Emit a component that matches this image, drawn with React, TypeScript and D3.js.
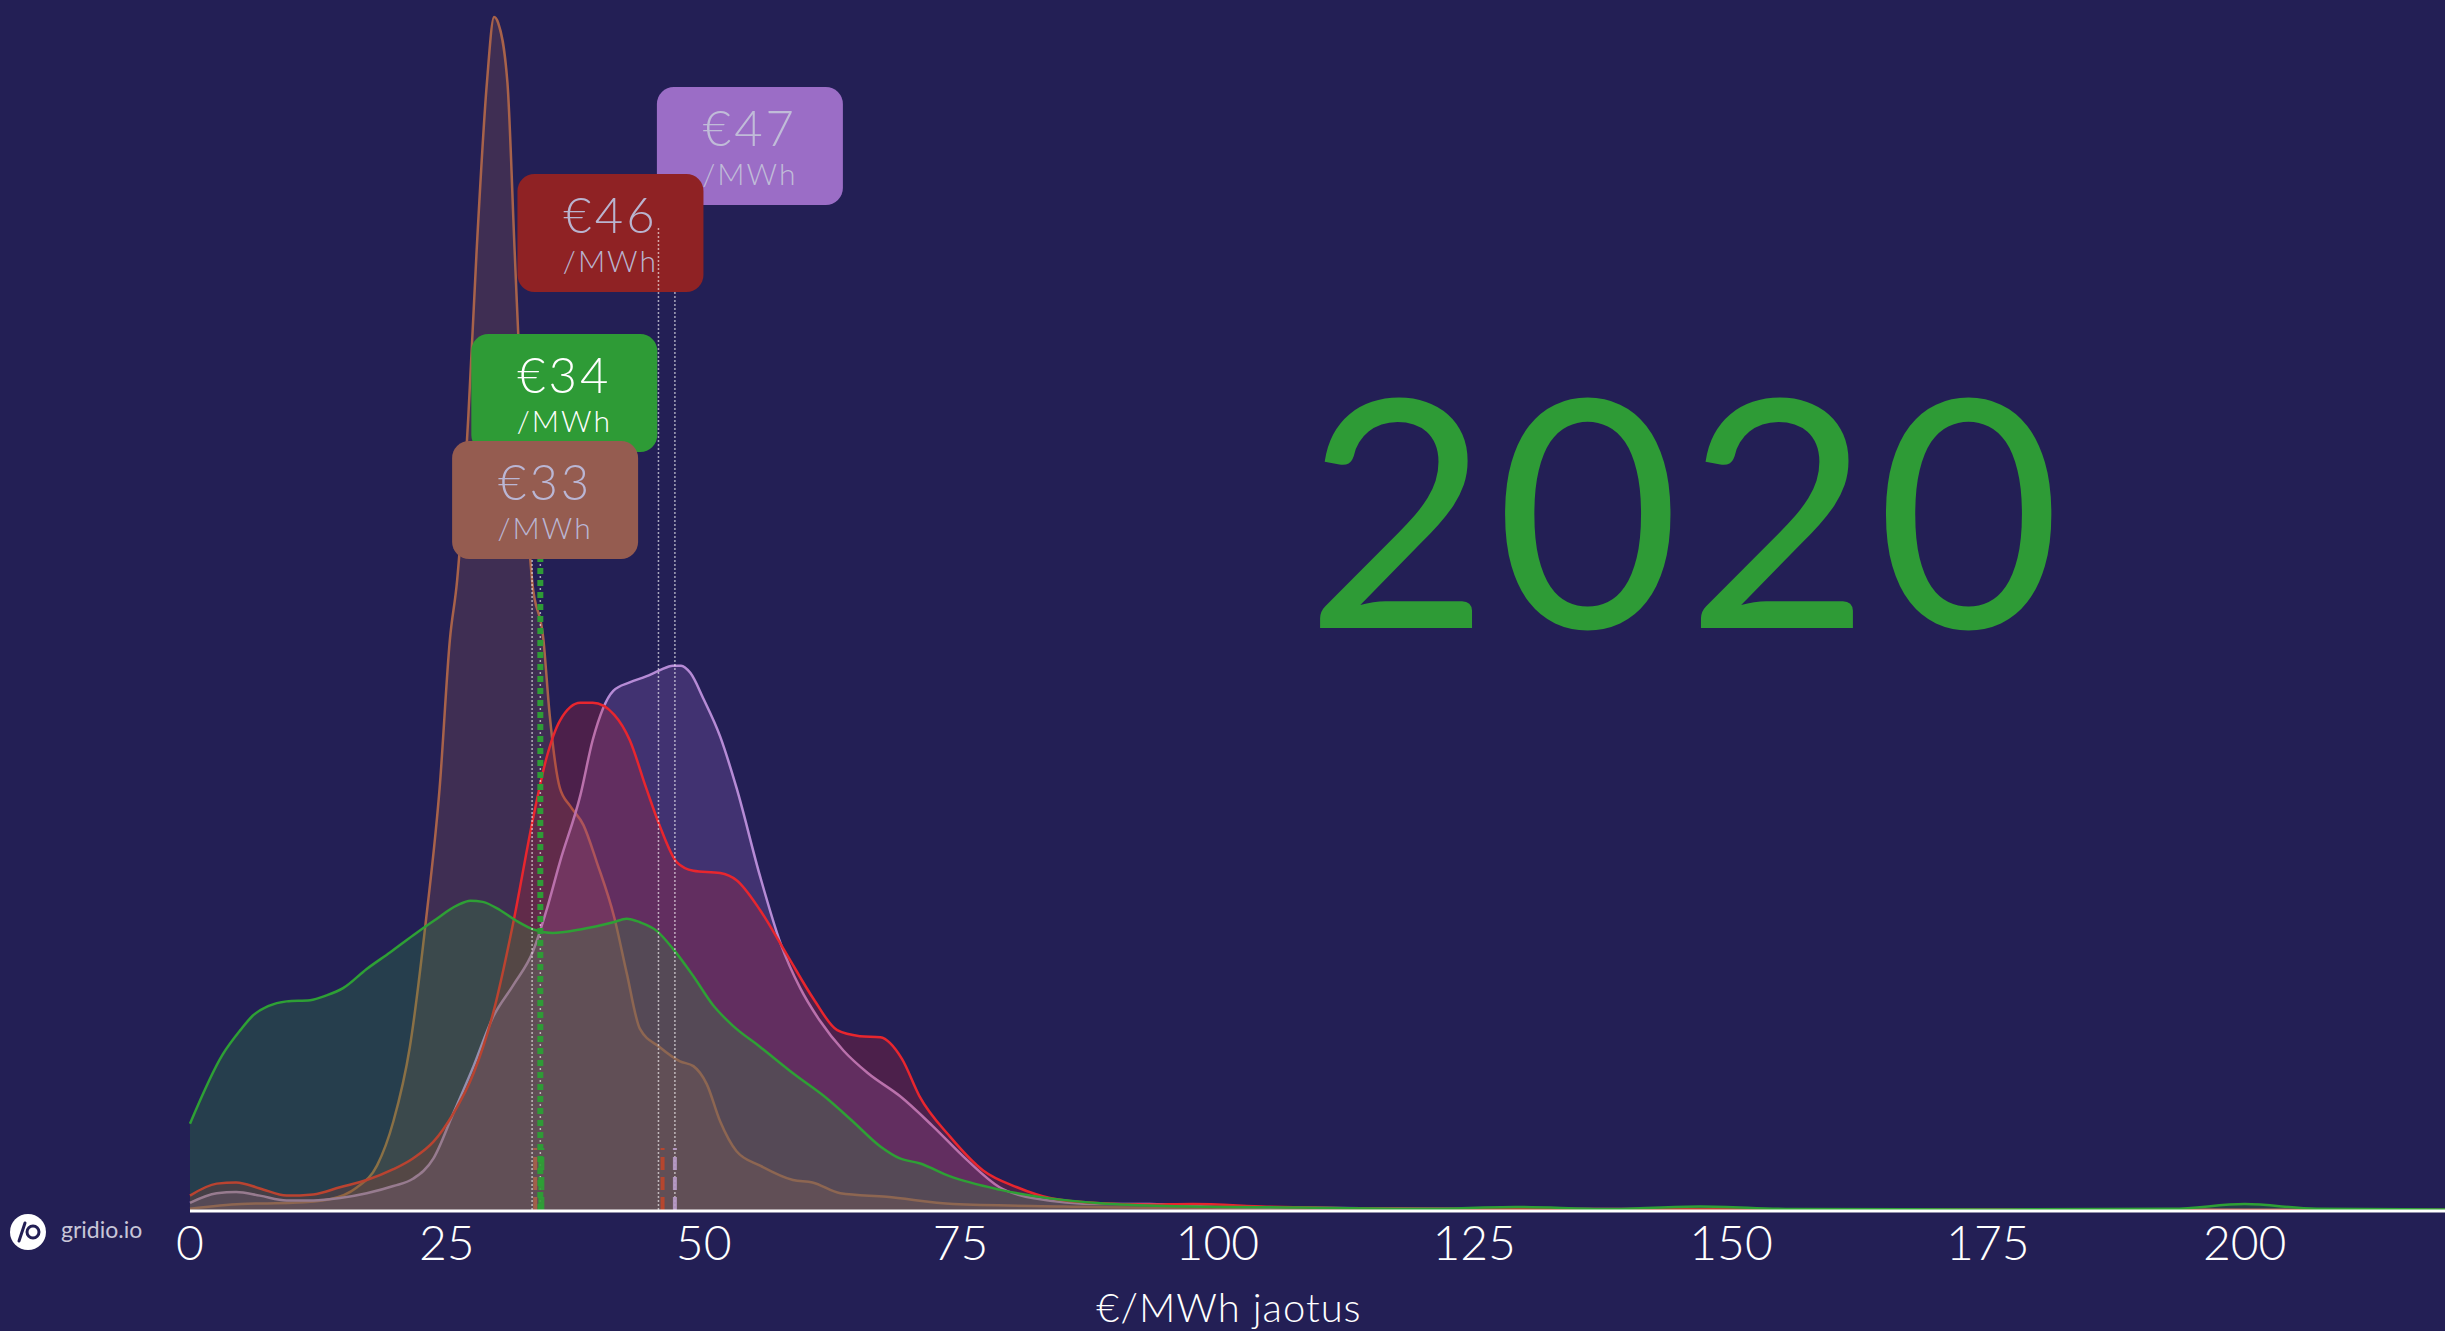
import React from 'react';
import * as d3 from 'd3';

// ---------- data ----------
const xTicks = [0, 25, 50, 75, 100, 125, 150, 175, 200];
const yearLabel = '2020';
const axisTitle = '€/MWh jaotus';

const brownPrice = [0, 5, 10, 13.6, 16.2, 18.2, 19.8, 21.4, 23, 24.3, 25.3, 26.0, 27.1, 27.9, 28.9, 29.6, 30.0, 30.9, 31.6, 32.3, 33.3, 34.4, 35, 36, 37, 38.3, 39.6, 41.3, 42.5, 43.8, 45.7, 47.7, 49, 50.3, 51.6, 53.2, 55.5, 58.7, 60.6, 63.3, 67.8, 74.3, 85, 100, 120, 219.5];
const brownDensity = [0.1, 0.5, 0.6, 0.9, 1.85, 3.7, 7.4, 13.6, 24.4, 35.2, 47.6, 52.5, 66.3, 80, 94, 99.5, 99, 94, 80, 66.3, 52.5, 47.6, 41.4, 35.2, 33.7, 32.1, 29.0, 24.4, 19.8, 15.1, 13.6, 12.4, 12.0, 10.5, 7.4, 4.9, 3.7, 2.5, 2.3, 1.4, 1.1, 0.5, 0.3, 0.1, 0.05, 0];

const purplePrice = [0, 2.6, 4.5, 6.8, 9.4, 12, 14.6, 17.2, 19.8, 21.7, 23.7, 25.6, 27.6, 29.5, 31.5, 33.4, 34.7, 36, 38, 39.2, 41.2, 42.8, 44.4, 45.7, 47, 47.8, 48.7, 50, 51.6, 53.2, 55.5, 57.5, 59.4, 61.3, 63.6, 66, 69.1, 72.3, 75.6, 78.8, 82, 88.6, 93.4, 100, 120, 219.5];
const purpleDensity = [0.6, 1.4, 1.5, 1.2, 0.8, 0.8, 1.0, 1.4, 2.0, 2.6, 4.3, 8.0, 12.0, 16.1, 18.8, 21.6, 25.0, 29.0, 34.6, 39.2, 43.3, 44.0, 44.5, 45.0, 45.4, 45.4, 44.8, 42.6, 39.5, 35.2, 27.8, 22.2, 18.5, 15.8, 13.3, 11.4, 9.5, 7.0, 4.2, 1.9, 1.0, 0.5, 0.5, 0.25, 0.1, 0];

const redPrice = [0, 2.6, 4.5, 6.8, 9.4, 12, 14.6, 17.2, 19.8, 21.7, 23.7, 25.6, 27.6, 29.5, 31.5, 33.4, 34.7, 36, 38, 39.2, 41.3, 42.8, 44.4, 45.7, 47.4, 49, 51.6, 53.2, 55.5, 58.1, 60.7, 63, 65.2, 67.2, 69.3, 71, 74, 77.2, 80.5, 83.7, 88.6, 93, 97.6, 104.8, 120, 219.5];
const redDensity = [1.2, 2.2, 2.3, 1.8, 1.2, 1.3, 1.9, 2.5, 3.4, 4.3, 5.7, 8.0, 11.4, 16.4, 24.1, 32.7, 37.7, 40.8, 42.3, 42.3, 41.3, 39.2, 35.2, 32.1, 29.0, 28.3, 28.1, 27.5, 25.0, 21.3, 17.6, 15.0, 14.5, 14.4, 12.6, 9.5, 6.1, 3.3, 1.9, 1.0, 0.56, 0.45, 0.5, 0.28, 0.1, 0];

const greenPrice = [0, 3.2, 4.9, 6.1, 7.6, 9.4, 11.7, 13.3, 14.9, 17.2, 19.5, 21.7, 23.7, 26, 27.3, 28.5, 30.2, 31.8, 33.4, 35.3, 38, 41.2, 42.5, 43.8, 45.4, 47, 49, 50.9, 52.8, 55.5, 58.7, 62, 64.5, 67.2, 69.1, 71, 74, 78.8, 83.7, 88.6, 95, 108, 120, 129, 138, 147, 156, 175, 193, 200, 207, 219.5];
const greenDensity = [7.2, 13.0, 15.0, 16.2, 17.0, 17.4, 17.5, 17.9, 18.5, 20.1, 21.5, 22.9, 24.1, 25.4, 25.8, 25.7, 25.0, 24.1, 23.4, 23.1, 23.4, 24.0, 24.3, 24.0, 23.3, 21.8, 19.5, 17.1, 15.4, 13.6, 11.4, 9.3, 7.4, 5.3, 4.3, 3.9, 2.8, 1.7, 0.97, 0.56, 0.33, 0.2, 0.1, 0.25, 0.08, 0.3, 0.08, 0.05, 0.1, 0.5, 0.1, 0.05];

// mean (label) and median (marker) values per series
const seriesKeys = ['brown', 'purple', 'red', 'green'];
const meanValues = { brown: 33.3, purple: 47.2, red: 45.6, green: 34.1 };
const medianValues = { brown: 33.6, purple: 47.2, red: 46.0, green: 34.2 };
const labelTexts = { brown: '€33', purple: '€47', red: '€46', green: '€34' };

// ---------- styling / layout ----------
const W = 2445;
const H = 1331;
const BASE_Y = 1210;
const TOP_Y = 11;
const BG = '#231f55';

const styles = {
  brown: { stroke: '#a8624a', fill: '#955c50', box: '#955c50', text: '#bab6d4' },
  purple: { stroke: '#b68bd6', fill: '#9b6dc6', box: '#9b6dc6', text: '#c0bcd8' },
  red: { stroke: '#e8262e', fill: '#c8242e', box: '#8f2224', text: '#b9b4cf' },
  green: { stroke: '#2ea035', fill: '#2e9b36', box: '#2e9b36', text: '#ffffff' },
};

// label boxes: horizontal offset from mean line, box top, and where the dotted guide ends
const labelLayout = {
  purple: { dx: -18, top: 87, guideTop: 291 },
  red: { dx: -141, top: 174, guideTop: 226 },
  green: { dx: -69, top: 334, guideTop: 559 },
  brown: { dx: -80, top: 441, guideTop: 559 },
};
const BOX_W = 186;
const BOX_H = 118;

const seriesData = {
  brown: brownPrice.map((p, i) => [p, brownDensity[i]] as [number, number]),
  purple: purplePrice.map((p, i) => [p, purpleDensity[i]] as [number, number]),
  red: redPrice.map((p, i) => [p, redDensity[i]] as [number, number]),
  green: greenPrice.map((p, i) => [p, greenDensity[i]] as [number, number]),
};

const FONT = 'Lato, "Open Sans", sans-serif';

export default function App() {
  const x = d3.scaleLinear().domain([0, 219.5]).range([190, W]);
  const y = d3.scaleLinear().domain([0, 100]).range([BASE_Y, TOP_Y]);

  const area = d3
    .area<[number, number]>()
    .x((d) => x(d[0]))
    .y0(BASE_Y)
    .y1((d) => y(d[1]))
    .curve(d3.curveMonotoneX);
  const line = d3
    .line<[number, number]>()
    .x((d) => x(d[0]))
    .y((d) => y(d[1]))
    .curve(d3.curveMonotoneX);

  const labelOrder = ['purple', 'red', 'green', 'brown'];

  return (
    <svg
      width={W}
      height={H}
      viewBox={`0 0 ${W} ${H}`}
      style={{ position: 'absolute', left: 0, top: 0, display: 'block', background: BG }}
    >
      <rect x={0} y={0} width={W} height={H} fill={BG} />

      {/* year */}
      <text
        x={1686}
        y={628}
        textAnchor="middle"
        fontFamily={FONT}
        fontWeight={400}
        fontSize={318}
        letterSpacing={6}
        fill="#2e9b36"
      >
        {yearLabel}
      </text>

      {/* density areas */}
      {seriesKeys.map((k) => (
        <g key={k}>
          <path d={area(seriesData[k]) || ''} fill={styles[k].fill} fillOpacity={0.25} />
          <path d={line(seriesData[k]) || ''} fill="none" stroke={styles[k].stroke} strokeWidth={2.5} />
        </g>
      ))}

      {/* label boxes */}
      {labelOrder.map((k) => {
        const lx = x(meanValues[k]) + labelLayout[k].dx;
        const ty = labelLayout[k].top;
        return (
          <g key={'lab' + k}>
            <rect x={lx} y={ty} width={BOX_W} height={BOX_H} rx={17} fill={styles[k].box} />
            <text
              x={lx + BOX_W / 2}
              y={ty + 59}
              textAnchor="middle"
              fontFamily={FONT}
              fontWeight={300}
              fontSize={49}
              letterSpacing={3}
              fill={styles[k].text}
            >
              {labelTexts[k]}
            </text>
            <text
              x={lx + BOX_W / 2}
              y={ty + 98}
              textAnchor="middle"
              fontFamily={FONT}
              fontWeight={300}
              fontSize={30}
              letterSpacing={2}
              fill={styles[k].text}
            >
              /MWh
            </text>
          </g>
        );
      })}

      {/* thin mean guides */}
      {seriesKeys.map((k) => (
        <line
          key={'g' + k}
          x1={x(meanValues[k])}
          x2={x(meanValues[k])}
          y1={BASE_Y}
          y2={labelLayout[k].guideTop}
          stroke="#ffffff"
          strokeOpacity={0.6}
          strokeWidth={1.5}
          strokeDasharray="2 2"
        />
      ))}

      {/* green thick dotted guide */}
      <line
        x1={x(meanValues.green)}
        x2={x(meanValues.green)}
        y1={BASE_Y}
        y2={labelLayout.brown.top + BOX_H}
        stroke="#2e9b36"
        strokeWidth={6}
        strokeDasharray="6 6"
      />

      {/* median markers */}
      {seriesKeys.map((k) => (
        <line
          key={'m' + k}
          x1={x(medianValues[k])}
          x2={x(medianValues[k])}
          y1={BASE_Y}
          y2={BASE_Y - 62}
          stroke={k === 'red' ? '#c0452a' : k === 'purple' ? '#b89ac8' : styles[k].stroke}
          strokeWidth={k === 'green' ? 6 : 4}
          strokeDasharray="13 7"
          strokeOpacity={0.9}
        />
      ))}

      {/* axis */}
      <line x1={190} x2={W} y1={BASE_Y + 1} y2={BASE_Y + 1} stroke="#ffffff" strokeWidth={3} />
      {xTicks.map((t) => (
        <text
          key={t}
          x={x(t)}
          y={1260}
          textAnchor="middle"
          fontFamily={FONT}
          fontWeight={300}
          fontSize={48}
          fill="#ffffff"
        >
          {t}
        </text>
      ))}
      <text
        x={1229}
        y={1322}
        textAnchor="middle"
        fontFamily={FONT}
        fontWeight={300}
        fontSize={40}
        letterSpacing={1}
        fill="#ffffff"
      >
        {axisTitle}
      </text>

      {/* logo */}
      <g>
        <circle cx={28} cy={1232} r={18} fill="#ffffff" />
        <line x1={19} y1={1241} x2={25} y2={1223} stroke={BG} strokeWidth={3} strokeLinecap="round" />
        <circle cx={33} cy={1232} r={6} fill="none" stroke={BG} strokeWidth={3} />
        <text x={61} y={1238} fontFamily={FONT} fontSize={23} fill="#c8c6d8">
          gridio.io
        </text>
      </g>
    </svg>
  );
}
